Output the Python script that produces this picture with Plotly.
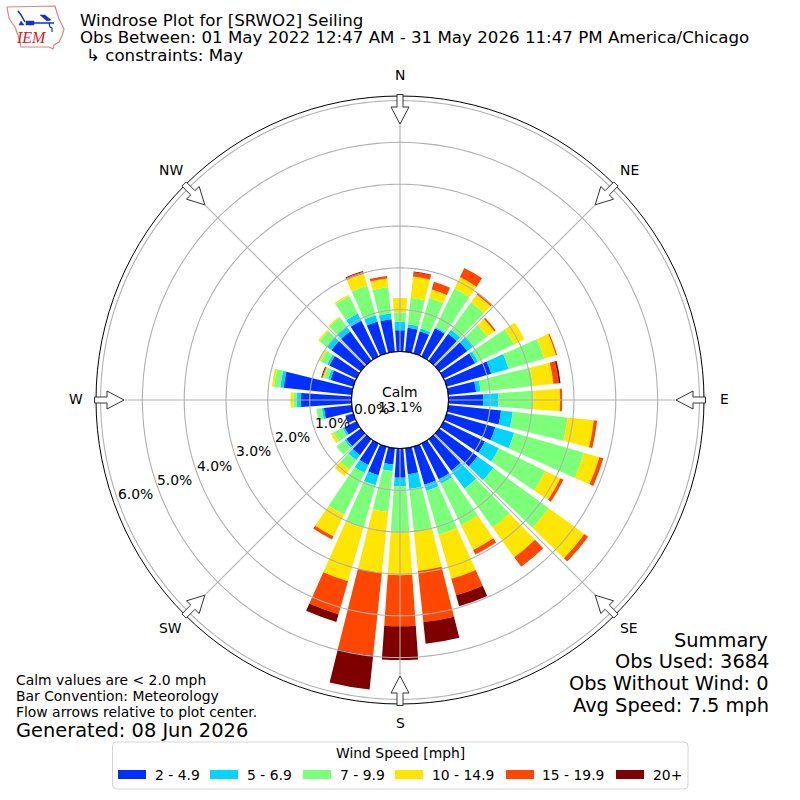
import numpy as np
import plotly.graph_objects as go

directions = list(range(0, 360, 10))
speed_labels = ['2 - 4.9', '5 - 6.9', '7 - 9.9', '10 - 14.9', '15 - 19.9', '20+']
colors = ['#0030ff', '#00d4ff', '#7cff79', '#ffe600', '#ff4700', '#7f0000']

# percent of obs per direction bin, one list per speed class
speed_2_5 = [.51, .58, .55, .75, .80, .83, .84, 1.11, .67, .83, 1.27, 1.21, 1.10, 1.13, .93, .95, .95, .63,
             .70, .39, .71, .57, .47, .43, .32, .20, .67, 1.21, 1.64, .57, .72, .87, .87, .95, .79, .78]
speed_5_7 = [.20, .08, .07, .03, .12, .19, .08, .43, .11, .36, .28, .47, .37, .47, .53, .12, .15, .35,
             .20, .16, .25, .21, .15, .05, .05, 0, .05, .10, .08, .06, .06, .13, .14, .19, .16, .14]
speed_7_10 = [.23, .64, .76, 1.03, .81, .40, .95, .89, 1.26, .84, 1.32, 1.74, 1.24, 1.64, 1.15, 1.10, 1.09, 1.02,
              1.10, .98, 1.07, 1.11, .28, .24, .24, 0, .13, .08, .15, .10, .17, .22, .27, .46, .73, .63]
speed_10_15 = [.34, .51, .21, .30, .23, .21, .28, .29, .49, .64, .63, .38, .40, 1.05, .88, .66, 1.10, .95,
               1.03, 1.47, 1.32, .58, .19, 0, .07, 0, 0, .07, .05, .03, .05, .04, .03, .04, .30, .21]
speed_15_20 = [0, .10, .19, .24, .04, .04, 0, .03, .13, .05, .08, .10, .08, .11, .28, .12, .41, 1.23,
               1.22, 1.98, .82, .08, 0, 0, 0, 0, 0, 0, 0, .02, 0, 0, 0, 0, .05, .06]
speed_20 = [0, .02, 0, 0, .01, 0, 0, 0, .04, 0, 0, 0, 0, 0, 0, 0, .27, .52,
            .81, .82, .19, 0, 0, 0, 0, 0, 0, 0, 0, .02, 0, 0, 0, 0, .02, 0]
speed_series = [speed_2_5, speed_5_7, speed_7_10, speed_10_15, speed_15_20, speed_20]

radial_ticks = [0, 1, 2, 3, 4, 5, 6]
compass_angles = [0, 45, 90, 135, 180, 225, 270, 315]
compass_names = ['N', 'NE', 'E', 'SE', 'S', 'SW', 'W', 'NW']
r_max = 6.11
cx, cy, outer, hole_px = 400, 400, 304, 48.5
pct_px = (outer - hole_px) / r_max


def px(x):
    return x / 800


def py(y):
    return 1 - y / 800


fig = go.Figure()

for name, vals, col in zip(speed_labels, speed_series, colors):
    fig.add_trace(go.Barpolar(
        r=vals, theta=directions, width=8, name=name,
        marker=dict(color=col, line=dict(width=0)), showlegend=False
    ))

# grid sits on top of the bars in the original
ring_theta = np.arange(0, 361, 1)
for t in radial_ticks:
    fig.add_trace(go.Scatterpolar(
        r=[t] * len(ring_theta), theta=ring_theta, mode='lines',
        line=dict(color='#000000' if t == 0 else '#b0b0b0', width=1.1),
        showlegend=False, cliponaxis=False, hoverinfo='skip'
    ))
for a in compass_angles:
    fig.add_trace(go.Scatterpolar(
        r=[0, r_max], theta=[a, a], mode='lines',
        line=dict(color='#b0b0b0', width=1.1),
        showlegend=False, cliponaxis=False, hoverinfo='skip'
    ))

shapes = []

# flow arrows at the compass points, tip towards the center
arrow = [(305.5, -3), (293, -3), (293, -9), (276, 0), (293, 9), (293, 3), (305.5, 3)]
for a in compass_angles:
    s, c = np.sin(np.radians(a)), np.cos(np.radians(a))
    pts = [(cx + r * s + w * c, cy - r * c + w * s) for r, w in arrow]
    path = 'M' + 'L'.join(f'{px(x):.5f},{py(y):.5f}' for x, y in pts) + 'Z'
    shapes.append(dict(type='path', path=path, xref='paper', yref='paper', layer='above',
                       fillcolor='white', line=dict(color='#333333', width=1)))


def poly(pts, fill=None, line=None, width=1):
    return dict(type='path', xref='paper', yref='paper', layer='above',
                path='M' + 'L'.join(f'{px(x):.5f},{py(y):.5f}' for x, y in pts) + ('Z' if fill else ''),
                fillcolor=fill if fill else 'rgba(0,0,0,0)',
                line=dict(color=line if line else 'rgba(0,0,0,0)', width=width))


# IEM logo, state outline and the little blue mark
iowa = [(7, 7), (55, 6), (57, 13), (59, 19), (64, 29), (62, 36), (59, 42), (54, 45), (53, 49), (49, 47), (21, 47),
        (19, 38), (15, 27), (12, 23), (9, 18)]
shapes.append(poly(iowa, fill='white', line='#e08080', width=1.2))
shapes.append(poly([(18, 11), (21, 15), (25, 22)], line='#1030d0', width=1.5))
shapes.append(poly([(26, 23), (54, 23)], line='#1030d0', width=1.5))
shapes.append(poly([(26, 21), (34, 21), (34, 25), (26, 25)], fill='#1030d0', line='#1030d0', width=0.5))
shapes.append(poly([(40, 15), (45, 15), (51, 20), (47, 21)], fill='#1030d0', line='#1030d0', width=0.5))
shapes.append(poly([(21, 21), (24, 25), (19, 25)], fill='#1030d0', line='#1030d0', width=0.5))
shapes.append(poly([(49, 23), (50, 27), (52, 28), (52, 32)], line='#1030d0', width=1.2))

# legend box
r0 = 4
lx0, ly0, lx1, ly1 = 112.5, 742, 688, 789
shapes.append(dict(type='path', xref='paper', yref='paper', layer='above', fillcolor='white',
                   line=dict(color='#d5d5d5', width=1),
                   path=f'M{px(lx0 + r0)},{py(ly0)}L{px(lx1 - r0)},{py(ly0)}Q{px(lx1)},{py(ly0)} {px(lx1)},{py(ly0 + r0)}'
                        f'L{px(lx1)},{py(ly1 - r0)}Q{px(lx1)},{py(ly1)} {px(lx1 - r0)},{py(ly1)}'
                        f'L{px(lx0 + r0)},{py(ly1)}Q{px(lx0)},{py(ly1)} {px(lx0)},{py(ly1 - r0)}'
                        f'L{px(lx0)},{py(ly0 + r0)}Q{px(lx0)},{py(ly0)} {px(lx0 + r0)},{py(ly0)}Z'))
swatch_x = [118, 210, 303, 395, 506, 616]
label_x = [154, 246.2, 338.8, 430.7, 541.3, 652.3]
for x, col in zip(swatch_x, colors):
    shapes.append(dict(type='rect', xref='paper', yref='paper', layer='above', x0=px(x), x1=px(x + 28),
                       y0=py(770), y1=py(779), fillcolor=col, line=dict(width=0)))


def label(x, y, text, size=13.9, anchor='left', color='black', family='DejaVu Sans'):
    return dict(x=px(x), y=py(y), xref='paper', yref='paper', text=text, showarrow=False,
                xanchor=anchor, yanchor='middle', align=anchor, borderpad=0,
                font=dict(family=family, size=size, color=color))


annotations = [
    label(79, 20, 'Windrose Plot for [SRWO2] Seiling', 16.67),
    label(79, 37, 'Obs Between: 01 May 2022 12:47 AM - 31 May 2026 11:47 PM America/Chicago', 16.67),
    label(85, 55.5, '↳ constraints: May', 16.67),
    label(400, 391.5, 'Calm', anchor='center'),
    label(400, 407, '13.1%', anchor='center'),
    label(768.5, 640, 'Summary', 19.4, 'right'),
    label(769.5, 661, 'Obs Used: 3684', 19.4, 'right'),
    label(769.5, 683.5, 'Obs Without Wind: 0', 19.4, 'right'),
    label(769.5, 705, 'Avg Speed: 7.5 mph', 19.4, 'right'),
    label(15, 680, 'Calm values are &lt; 2.0 mph'),
    label(15, 696, 'Bar Convention: Meteorology'),
    label(15, 712, 'Flow arrows relative to plot center.'),
    label(15, 730, 'Generated: 08 Jun 2026', 19.4),
    label(400, 753, 'Wind Speed [mph]', anchor='center'),
    label(15, 38, '<i>IEM</i>', 16, color='#d02020', family='Liberation Serif'),
]
for x, text in zip(label_x, speed_labels):
    annotations.append(label(x, 774.5, text))

# compass names sit a fixed distance outside the rim
for a, name in zip(compass_angles, compass_names):
    s, c = np.sin(np.radians(a)), np.cos(np.radians(a))
    annotations.append(label(cx + 324 * s, cy - 324 * c - 1, name, anchor='center'))

# radial labels run along the 250 degree line, offset like matplotlib places them
for t in radial_ticks:
    R = hole_px + pct_px * t
    annotations.append(label(cx - R * np.cos(np.radians(20)) + 17, cy + R * np.sin(np.radians(20)) - 8,
                             f'{t:.1f}%', anchor='center'))

fig.update_layout(
    width=800, height=800,
    margin=dict(l=0, r=0, t=0, b=0),
    paper_bgcolor='white',
    barmode='stack',
    showlegend=False,
    polar=dict(
        domain=dict(x=[px(cx - outer), px(cx + outer)], y=[py(cy + outer), py(cy - outer)]),
        hole=hole_px / outer,
        bgcolor='white',
        bargap=0,
        radialaxis=dict(range=[0, r_max], showgrid=False, showline=False, showticklabels=False, ticks=''),
        angularaxis=dict(
            rotation=90, direction='clockwise', showgrid=False, showline=True,
            linecolor='black', linewidth=1,
            tickmode='array', tickvals=compass_angles, ticks='', showticklabels=False
        ),
    ),
    shapes=shapes,
    annotations=annotations,
)

fig.write_html("out.html", config={'displayModeBar': False},
               post_script="document.body.style.margin='0';")
